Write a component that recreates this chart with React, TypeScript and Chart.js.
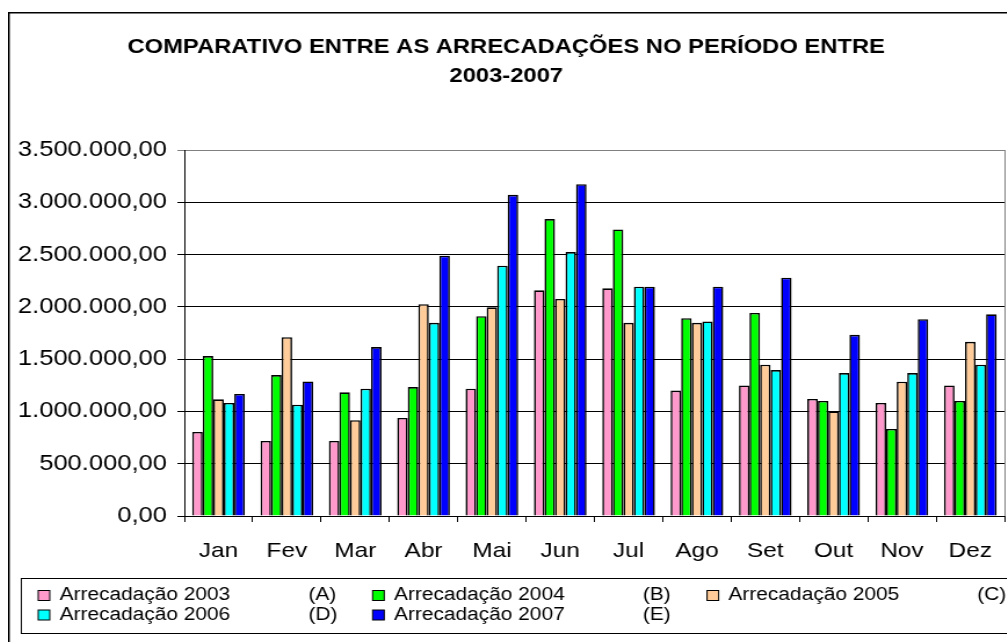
import React, { useEffect, useRef } from "react";
import { Chart, registerables } from "chart.js";

Chart.register(...registerables);

const months = ["Jan", "Fev", "Mar", "Abr", "Mai", "Jun", "Jul", "Ago", "Set", "Out", "Nov", "Dez"];

const seriesLabels = [
  "Arrecadação 2003",
  "Arrecadação 2004",
  "Arrecadação 2005",
  "Arrecadação 2006",
  "Arrecadação 2007",
];
const seriesLetters = ["(A)", "(B)", "(C)", "(D)", "(E)"];
const seriesColors = ["#FF99CC", "#00FF00", "#FFCC99", "#00FFFF", "#0000FF"];

const values2003 = [804000, 718000, 718000, 938000, 1218000, 2158000, 2177000, 1199000, 1249000, 1119000, 1081000, 1249000];
const values2004 = [1529000, 1348000, 1183000, 1233000, 1910000, 2839000, 2740000, 1891000, 1942000, 1100000, 833000, 1100000];
const values2005 = [1116000, 1710000, 916000, 2025000, 1996000, 2076000, 1847000, 1847000, 1447000, 1001000, 1284000, 1666000];
const values2006 = [1081000, 1065000, 1218000, 1847000, 2394000, 2524000, 2193000, 1860000, 1395000, 1367000, 1367000, 1447000];
const values2007 = [1167000, 1287000, 1615000, 2489000, 3071000, 3173000, 2193000, 2193000, 2279000, 1733000, 1882000, 1929000];

const yTickLabels = [
  "0,00",
  "500.000,00",
  "1.000.000,00",
  "1.500.000,00",
  "2.000.000,00",
  "2.500.000,00",
  "3.000.000,00",
  "3.500.000,00",
];

const titleLines = ["COMPARATIVO ENTRE AS ARRECADAÇÕES NO PERÍODO ENTRE", "2003-2007"];

const FONT = "'Liberation Sans', Arial, Helvetica, sans-serif";

// internal canvas size (stretched horizontally by CSS like the reference)
const W = 881;
const H = 632;
const CSS_W = 1022;
const CSS_H = 632;

export default function App() {
  const ref = useRef<HTMLCanvasElement | null>(null);

  useEffect(() => {
    if (!ref.current) return;
    const allSeries = [values2003, values2004, values2005, values2006, values2007];

    const framePlugin = {
      id: "frame",
      beforeDraw(chart: any) {
        const ctx = chart.ctx;
        ctx.save();
        ctx.fillStyle = "#fff";
        ctx.fillRect(0, 0, chart.width, chart.height);
        ctx.restore();
      },
      afterDraw(chart: any) {
        const ctx = chart.ctx;
        const a = chart.chartArea;
        ctx.save();
        // plot area right border (gray)
        ctx.strokeStyle = "#808080";
        ctx.lineWidth = 1;
        ctx.beginPath();
        ctx.moveTo(Math.round(a.right) + 0.5, a.top);
        ctx.lineTo(Math.round(a.right) + 0.5, a.bottom);
        ctx.stroke();
        // outer frame
        ctx.strokeStyle = "#000";
        ctx.lineWidth = 1.5;
        ctx.strokeRect(0.75, 0.75, chart.width + 20, chart.height + 20);
        // legend box
        ctx.lineWidth = 1;
        ctx.strokeRect(11.5, 566.5, chart.width + 20, 55);
        ctx.font = `18px ${FONT}`;
        ctx.textBaseline = "middle";
        ctx.textAlign = "left";
        for (let i = 0; i < seriesLabels.length; i++) {
          const col = i % 3;
          const row = Math.floor(i / 3);
          const x0 = 26 + col * 288.3;
          const yc = 583.5 + row * 19.5;
          ctx.fillStyle = seriesColors[i];
          ctx.fillRect(x0, yc - 5, 10, 10);
          ctx.strokeStyle = "#000";
          ctx.strokeRect(x0, yc - 5, 10, 10);
          ctx.fillStyle = "#000";
          ctx.fillText(seriesLabels[i], x0 + 18.5, yc);
          ctx.fillText(seriesLetters[i], x0 + 233, yc);
        }
        ctx.restore();
      },
    };

    const chart = new Chart(ref.current, {
      type: "bar",
      data: {
        labels: months,
        datasets: allSeries.map((d, i) => ({
          label: seriesLabels[i],
          data: d,
          backgroundColor: seriesColors[i],
          borderColor: "#000",
          borderWidth: 1.6,
          categoryPercentage: 0.77,
          barPercentage: 1,
        })),
      },
      options: {
        animation: false,
        responsive: false,
        devicePixelRatio: 1,
        layout: { padding: { left: 0, right: 22, top: 0, bottom: 0 } },
        plugins: {
          legend: { display: false },
          tooltip: { enabled: false },
          title: {
            display: true,
            text: titleLines,
            color: "#000",
            font: { family: FONT, size: 20.5, weight: "bold", lineHeight: 1.4 },
            padding: { top: 21, bottom: 59.6 },
          },
        },
        scales: {
          x: {
            grid: {
              display: true,
              drawOnChartArea: false,
              drawTicks: true,
              tickLength: 6,
              color: "#000",
              offset: true,
            },
            border: { color: "#000", width: 1 },
            ticks: {
              color: "#000",
              font: { family: FONT, size: 21 },
              padding: 17,
              maxRotation: 0,
            },
            afterFit(scale: any) {
              scale.height = 128;
            },
          },
          y: {
            min: 0,
            max: 3500000,
            grid: {
              color: (c: any) => (c.tick && c.tick.value === 3500000 ? "#808080" : "#000"),
              lineWidth: 1,
              tickLength: 6,
              drawTicks: true,
            },
            border: { color: "#000", width: 1 },
            ticks: {
              stepSize: 500000,
              color: "#000",
              font: { family: FONT, size: 22 },
              padding: 9,
              callback: (_v: any, idx: number) => yTickLabels[idx],
            },
            afterFit(scale: any) {
              scale.width = 152;
            },
          },
        },
      },
      plugins: [framePlugin],
    });

    return () => chart.destroy();
  }, []);

  return (
    <div style={{ position: "absolute", left: 0, top: 0, width: 1007, height: 642, overflow: "hidden", background: "#fff" }}>
      <canvas
        ref={ref}
        width={W}
        height={H}
        style={{ position: "absolute", left: 8, top: 12, width: CSS_W + "px", height: CSS_H + "px" }}
      />
    </div>
  );
}
